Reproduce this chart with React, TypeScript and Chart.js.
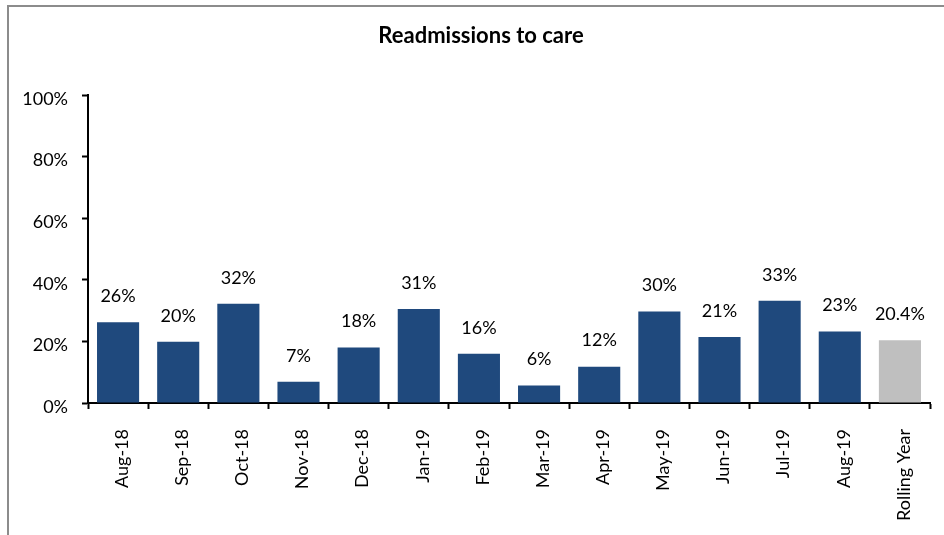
import React, { useEffect, useRef } from "react";
import { Chart, registerables } from "chart.js";

Chart.register(...registerables);

const categories = [
  "Aug-18", "Sep-18", "Oct-18", "Nov-18", "Dec-18", "Jan-19", "Feb-19",
  "Mar-19", "Apr-19", "May-19", "Jun-19", "Jul-19", "Aug-19", "Rolling Year",
];
const readmissionRates = [26.2, 19.9, 32.2, 6.9, 18.0, 30.5, 16.0, 5.7, 11.8, 29.7, 21.4, 33.2, 23.2, 20.4];
const valueLabels = ["26%", "20%", "32%", "7%", "18%", "31%", "16%", "6%", "12%", "30%", "21%", "33%", "23%", "20.4%"];
const yTicks = [0, 20, 40, 60, 80, 100];
const titleText = "Readmissions to care";

const NAVY = "#1F497D";
const GREY = "#BFBFBF";
const FONT = "Lato";

const barLabelPlugin = {
  id: "barLabels",
  afterDatasetsDraw(chart: any) {
    const ctx = chart.ctx;
    const meta = chart.getDatasetMeta(0);
    ctx.save();
    ctx.font = `18px ${FONT}`;
    ctx.fillStyle = "#000";
    ctx.textAlign = "center";
    ctx.textBaseline = "middle";
    meta.data.forEach((bar: any, i: number) => {
      ctx.fillText(valueLabels[i], bar.x, bar.y - 26);
    });
    ctx.restore();
  },
};

const titlePlugin = {
  id: "customTitle",
  afterDraw(chart: any) {
    const ctx = chart.ctx;
    ctx.save();
    ctx.font = `bold 22px ${FONT}`;
    ctx.fillStyle = "#000";
    ctx.textAlign = "center";
    ctx.textBaseline = "alphabetic";
    ctx.fillText(titleText, 481, 43);
    ctx.restore();
  },
};

export default function App() {
  const ref = useRef<HTMLCanvasElement>(null);
  useEffect(() => {
    if (!ref.current) return;
    const chart = new Chart(ref.current, {
      type: "bar",
      data: {
        labels: categories,
        datasets: [
          {
            data: readmissionRates,
            backgroundColor: categories.map((_, i) => (i === categories.length - 1 ? GREY : NAVY)),
            barPercentage: 0.7,
            categoryPercentage: 1,
          },
        ],
      },
      options: {
        responsive: false,
        animation: false,
        layout: { padding: { left: 10, right: 14, top: 95, bottom: 0 } },
        plugins: {
          legend: { display: false },
          tooltip: { enabled: false },
          title: { display: false },
        },
        scales: {
          x: {
            grid: {
              display: true,
              drawOnChartArea: false,
              drawTicks: true,
              tickLength: 6,
              tickWidth: 2,
              tickColor: "#000",
              offset: true,
            },
            border: { display: true, color: "#000", width: 2 },
            ticks: {
              color: "#000",
              font: { family: FONT, size: 18 },
              maxRotation: 90,
              minRotation: 90,
              padding: 20,
              labelOffset: 4,
              autoSkip: false,
            },
            afterFit(scale: any) {
              scale.height = 132;
            },
          },
          y: {
            min: 0,
            max: 100,
            afterBuildTicks(scale: any) {
              scale.ticks = yTicks.map((v) => ({ value: v }));
            },
            grid: {
              display: true,
              drawOnChartArea: false,
              drawTicks: true,
              tickLength: 6,
              tickWidth: 2,
              tickColor: "#000",
            },
            border: { display: true, color: "#000", width: 2 },
            ticks: {
              color: "#000",
              font: { family: FONT, size: 18 },
              padding: 14,
              labelOffset: 4,
              callback: (v: any) => `${v}%`,
            },
            afterFit(scale: any) {
              scale.width = 78;
            },
          },
        },
      },
      plugins: [barLabelPlugin, titlePlugin],
    } as any);
    return () => chart.destroy();
  }, []);

  return (
    <div style={{ position: "fixed", left: 0, top: 0, width: 944, height: 535, overflow: "hidden", background: "#fff" }}>
      <div
        style={{
          position: "absolute",
          left: 7,
          top: 5,
          width: 1200,
          height: 800,
          borderTop: "2px solid #8c8c8c",
          borderLeft: "2px solid #8c8c8c",
        }}
      />
      <canvas
        ref={ref}
        width={944}
        height={535}
        style={{ position: "absolute", left: 0, top: 0, width: 944, height: 535 }}
      />
    </div>
  );
}
